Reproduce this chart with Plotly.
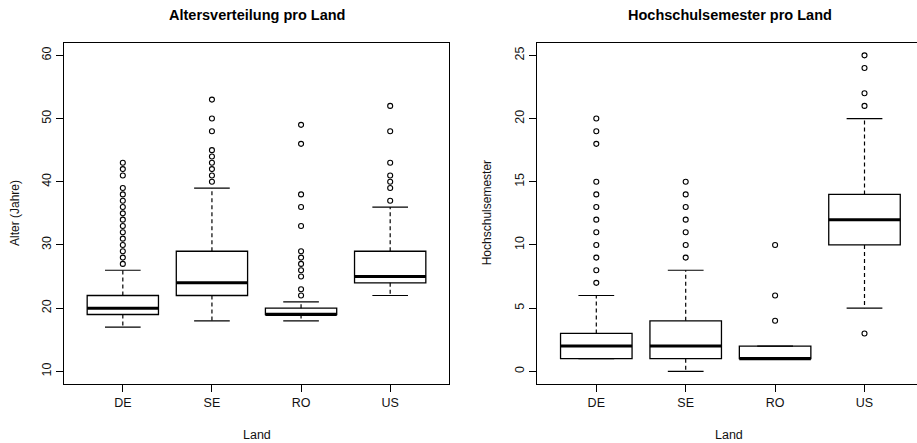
import plotly.graph_objects as go

# ---------------- data ----------------
countries = ["DE", "SE", "RO", "US"]

# Left panel: Alter (Jahre)
age_q1 = [19, 22, 19, 24]
age_median = [20, 24, 19, 25]
age_q3 = [22, 29, 20, 29]
age_low = [17, 18, 18, 22]
age_high = [26, 39, 21, 36]
age_out_DE = [27, 28, 29, 30, 31, 32, 33, 34, 35, 36, 37, 38, 39, 41, 42, 43]
age_out_SE = [40, 41, 42, 43, 44, 45, 48, 50, 53]
age_out_RO = [22, 23, 25, 26, 27, 28, 29, 33, 36, 38, 46, 49]
age_out_US = [37, 39, 40, 41, 43, 48, 52]

# Right panel: Hochschulsemester
sem_q1 = [1, 1, 1, 10]
sem_median = [2, 2, 1, 12]
sem_q3 = [3, 4, 2, 14]
sem_low = [1, 0, 1, 5]
sem_high = [6, 8, 2, 20]
sem_out_DE = [7, 8, 9, 10, 11, 12, 13, 14, 15, 18, 19, 20]
sem_out_SE = [9, 10, 11, 12, 13, 14, 15]
sem_out_RO = [4, 6, 10]
sem_out_US = [3, 21, 22, 24, 25]

age_ticks = [10, 20, 30, 40, 50, 60]
sem_ticks = [0, 5, 10, 15, 20, 25]

# ---------------- figure ----------------
W, H = 917, 443
fig = go.Figure()
BOXW = 0.8
CAPW = 0.4
positions = [1, 2, 3, 4]


def add_panel(xa, ya, q1, med, q3, low, high, outs):
    # whiskers (dashed) and caps
    for i, p in enumerate(positions):
        for a, b in ((q3[i], high[i]), (q1[i], low[i])):
            if a != b:
                fig.add_trace(go.Scatter(x=[p, p], y=[a, b], mode="lines",
                                         line=dict(color="black", width=1.2, dash="4px,3px"),
                                         xaxis=xa, yaxis=ya, showlegend=False, hoverinfo="skip"))
        for v in (low[i], high[i]):
            fig.add_trace(go.Scatter(x=[p - CAPW / 2, p + CAPW / 2], y=[v, v], mode="lines",
                                     line=dict(color="black", width=1.2),
                                     xaxis=xa, yaxis=ya, showlegend=False, hoverinfo="skip"))
    # boxes
    fig.add_trace(go.Box(x=positions, q1=q1, median=med, q3=q3,
                         lowerfence=q1, upperfence=q3, width=BOXW,
                         fillcolor="white", line=dict(color="black", width=1.3),
                         whiskerwidth=0, boxpoints=False,
                         xaxis=xa, yaxis=ya, showlegend=False, hoverinfo="skip"))
    # thick medians
    for i, p in enumerate(positions):
        fig.add_trace(go.Scatter(x=[p - BOXW / 2, p + BOXW / 2], y=[med[i], med[i]], mode="lines",
                                 line=dict(color="black", width=3),
                                 xaxis=xa, yaxis=ya, showlegend=False, hoverinfo="skip"))
    # outliers
    ox, oy = [], []
    for p, vals in zip(positions, outs):
        ox += [p] * len(vals)
        oy += vals
    fig.add_trace(go.Scatter(x=ox, y=oy, mode="markers",
                             marker=dict(symbol="circle-open", size=5, color="black",
                                         line=dict(width=1.1, color="black")),
                             xaxis=xa, yaxis=ya, showlegend=False, hoverinfo="skip"))


add_panel("x", "y", age_q1, age_median, age_q3, age_low, age_high,
          [age_out_DE, age_out_SE, age_out_RO, age_out_US])
add_panel("x2", "y2", sem_q1, sem_median, sem_q3, sem_low, sem_high,
          [sem_out_DE, sem_out_SE, sem_out_RO, sem_out_US])

FONT = "Liberation Sans, Arial, sans-serif"
ydom = [(H - 384) / H, (H - 42.7) / H]

axis_common = dict(showgrid=False, zeroline=False, showline=True, linecolor="black",
                   linewidth=1.2, ticks="outside", ticklen=7, tickcolor="black", tickwidth=1.2,
                   tickfont=dict(family=FONT, size=12.5, color="#111"))

fig.update_layout(
    width=W, height=H, margin=dict(l=0, r=0, t=0, b=0),
    paper_bgcolor="white", plot_bgcolor="white", showlegend=False,
    xaxis=dict(domain=[64 / W, 449 / W], range=[0.34, 4.66], tickvals=positions,
               ticktext=countries, mirror=True, anchor="y", **axis_common),
    yaxis=dict(domain=ydom, range=[8, 62], tickvals=age_ticks, tickangle=-90,
               mirror=True, anchor="x", **axis_common),
    xaxis2=dict(domain=[537.3 / W, 1.0], range=[0.34, 0.34 + (W - 537.3) / 89.4],
                tickvals=positions, ticktext=countries, mirror=True, anchor="y2", **axis_common),
    yaxis2=dict(domain=ydom, range=[-1, 26], tickvals=sem_ticks, tickangle=-90,
                mirror=False, anchor="x2", **axis_common),
)

ann = []
ann.append(dict(text="<b>Altersverteilung pro Land</b>", x=256.5 / W, y=1 - 14.7 / H,
                font=dict(family=FONT, size=14.5, color="black")))
ann.append(dict(text="<b>Hochschulsemester pro Land</b>", x=730.4 / W, y=1 - 14.7 / H,
                font=dict(family=FONT, size=14.5, color="black")))
ann.append(dict(text="Land", x=256.5 / W, y=1 - 435 / H,
                font=dict(family=FONT, size=12.5, color="#111")))
ann.append(dict(text="Land", x=729 / W, y=1 - 435 / H,
                font=dict(family=FONT, size=12.5, color="#111")))
ann.append(dict(text="Alter (Jahre)", x=15 / W, y=1 - 213 / H, textangle=-90,
                font=dict(family=FONT, size=12, color="#111")))
ann.append(dict(text="Hochschulsemester", x=487.3 / W, y=1 - 213 / H, textangle=-90,
                font=dict(family=FONT, size=12, color="#111")))
for a in ann:
    a.update(xref="paper", yref="paper", showarrow=False, xanchor="center", yanchor="middle")
fig.update_layout(annotations=ann)

fig.write_html("out.html")
